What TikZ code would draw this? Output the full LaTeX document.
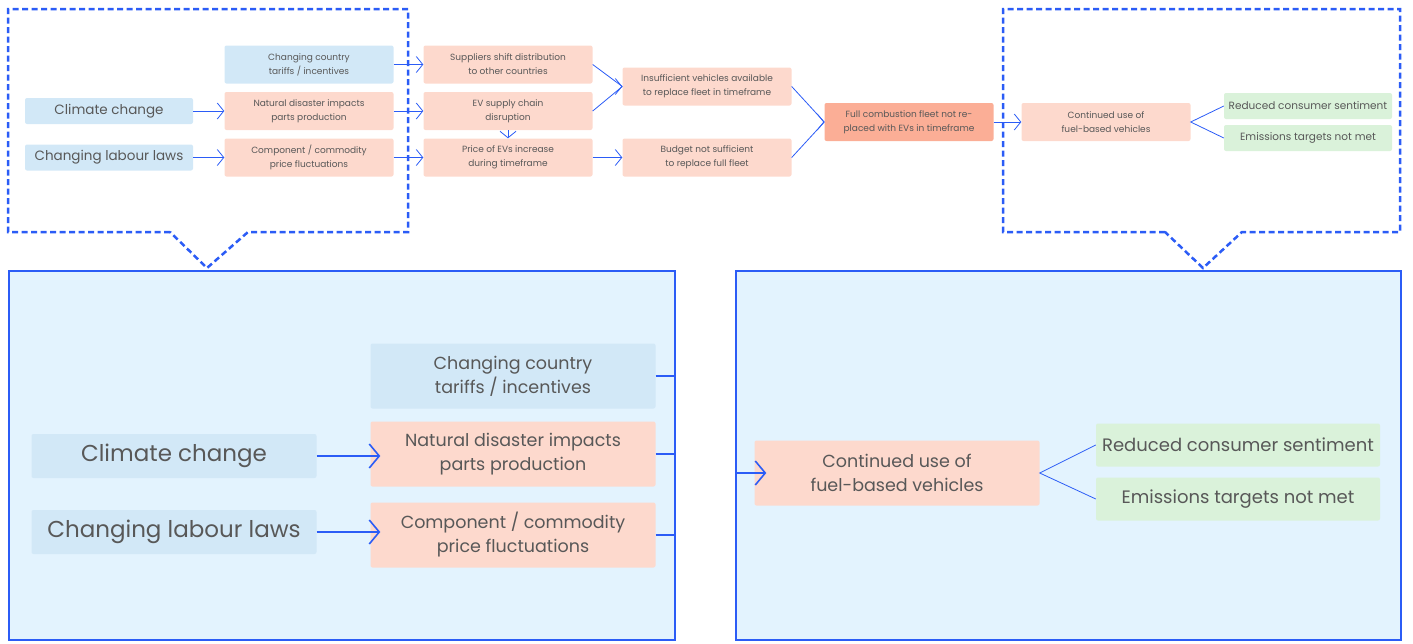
\documentclass[tikz,border=0pt]{standalone}
\usepackage{fontspec}
\setmainfont{Poppins}
\usetikzlibrary{arrows.meta, positioning}

\definecolor{lineblue}{RGB}{43,92,246}
\definecolor{causeblue}{RGB}{210,232,247}
\definecolor{effectred}{RGB}{253,217,205}
\definecolor{mainred}{RGB}{251,174,150}
\definecolor{impactgreen}{RGB}{218,242,218}
\definecolor{panelblue}{RGB}{227,243,254}
\definecolor{textgrey}{RGB}{88,88,88}

\tikzset{
  box/.style = {rectangle, rounded corners=2pt, inner sep=0pt, align=center,
                text=textgrey},
  cause/.style = {box, fill=causeblue, minimum width=168pt, minimum height=26pt,
                  font=\fontsize{13.5}{14}\selectfont},
  effect/.style = {box, fill=effectred, minimum width=169pt, minimum height=38pt,
                   font=\fontsize{9}{14}\selectfont},
  impact/.style = {box, fill=impactgreen, minimum width=168pt, minimum height=26pt,
                   font=\fontsize{10.5}{13}\selectfont},
  bigcause/.style = {cause, minimum width=285pt, minimum height=44pt,
                     font=\fontsize{23}{24}\selectfont},
  bigeffect/.style = {effect, minimum width=285pt, minimum height=65pt,
                      font=\fontsize{17.5}{24}\selectfont},
  bigimpact/.style = {impact, minimum width=284pt, minimum height=43pt,
                      font=\fontsize{18}{24}\selectfont},
  panel/.style = {rectangle, draw=lineblue, line width=1.5pt, fill=panelblue,
                  inner sep=0pt, minimum width=666pt, minimum height=369pt},
  callout/.style = {draw=lineblue, line width=2.5pt, dash pattern=on 6pt off 3.5pt},
  link/.style = {draw=lineblue, line width=0.8pt,
                 >={Straight Barb[length=6.5pt, width=16pt]}},
  biglink/.style = {draw=lineblue, line width=1.6pt,
                    >={Straight Barb[length=10pt, width=24pt]}}
}

\begin{document}
\begin{tikzpicture}[x=1pt, y=-1pt, node distance = 46.5pt and 200pt, on grid]
  \useasboundingbox (0,0) rectangle (1413,643);

  % zoom callouts
  \draw[callout] (170,232) -- (8,232) -- (8,9) -- (408,9) -- (408,232)
    -- (248,232) -- (207,268) -- cycle;
  \draw[callout] (1165,232) -- (1003,232) -- (1003,9) -- (1400,9) -- (1400,232)
    -- (1242,232) -- (1203,268) -- cycle;

  % overview chain
  \node[cause] (climate) at (109,111) {Climate change};
  \node[cause] (labour) [below=of climate] {Changing labour laws};
  \node[effect] (disaster) [right=of climate] {Natural disaster impacts\\parts production};
  \node[cause, minimum width=169pt, minimum height=38pt, font=\fontsize{9}{14}\selectfont]
    (tariffs) [above=of disaster] {Changing country\\tariffs / incentives};
  \node[effect] (component) [below=of disaster] {Component / commodity\\price fluctuations};
  \node[effect] (supply) [right=199pt of disaster] {EV supply chain\\disruption};
  \node[effect] (shift) [above=of supply] {Suppliers shift distribution\\to other countries};
  \node[effect] (price) [below=of supply] {Price of EVs increase\\during timeframe};
  \node[effect] (vehicles) [right=199pt of shift, yshift=-22pt] {Insufficient vehicles available\\to replace fleet in timeframe};
  \node[effect] (budget) [right=199pt of price] {Budget not sufficient\\to replace full fleet};
  \node[effect, fill=mainred] (fleet) at (909,122) {Full combustion fleet not re-\\placed with EVs in timeframe};
  \node[effect] (fuel) [right=197pt of fleet] {Continued use of\\fuel-based vehicles};
  \node[impact] (sentiment) [right=202pt of fuel, yshift=16pt] {Reduced consumer sentiment};
  \node[impact] (targets) [right=202pt of fuel, yshift=-16pt] {Emissions targets not met};

  \path[link, ->]
    (climate) edge (disaster)
    (labour) edge (component)
    (tariffs) edge (shift)
    (disaster) edge (supply)
    (component) edge (price)
    (supply) edge (price)
    (price) edge (budget)
    (fleet) edge (fuel);
  \draw[link] (shift.east) -- (vehicles.west) (supply.east) -- (vehicles.west);
  \draw[link, ->] ([xshift=-1pt]vehicles.west) -- (vehicles.west);
  \draw[link] (vehicles.east) -- (fleet.west) (budget.east) -- (fleet.west);
  \draw[link, ->] ([xshift=-1pt]fleet.west) -- (fleet.west);
  \draw[link] (sentiment.west) -- (fuel.east) -- (targets.west);

  % zoomed panels
  \node[panel] (leftpanel) at (342,455.5) {};
  \node[panel, minimum width=665pt] (rightpanel) at (1068.5,455.5) {};

  \node[bigcause] (bigclimate) at (174,456) {Climate change};
  \node[bigcause] (biglabour) at (174,532) {Changing labour laws};
  \node[bigcause, minimum height=65pt, font=\fontsize{17.5}{24}\selectfont]
    (bigtariffs) at (513,376) {Changing country\\tariffs / incentives};
  \node[bigeffect] (bigdisaster) at (513,454) {Natural disaster impacts\\parts production};
  \node[bigeffect] (bigcomponent) at (513,535) {Component / commodity\\price fluctuations};

  \draw[biglink, ->] (bigclimate) -- ([xshift=10pt]bigdisaster.west |- bigclimate);
  \draw[biglink, ->] (biglabour) -- ([xshift=10pt]bigcomponent.west |- biglabour);
  \foreach \n in {bigtariffs, bigdisaster, bigcomponent}
    \draw[biglink] (\n.east) -- (\n.east -| leftpanel.east);

  \node[bigeffect] (bigfuel) at (897,473) {Continued use of\\fuel-based vehicles};
  \node[bigimpact] (bigsentiment) at (1238,445) {Reduced consumer sentiment};
  \node[bigimpact] (bigtargets) at (1238,499) {Emissions targets not met};

  \draw[biglink, ->] (bigfuel.west -| rightpanel.west) -- ([xshift=12pt]bigfuel.west);
  \draw[link] (bigsentiment.west) -- (bigfuel.east) -- (bigtargets.west);
\end{tikzpicture}
\end{document}
